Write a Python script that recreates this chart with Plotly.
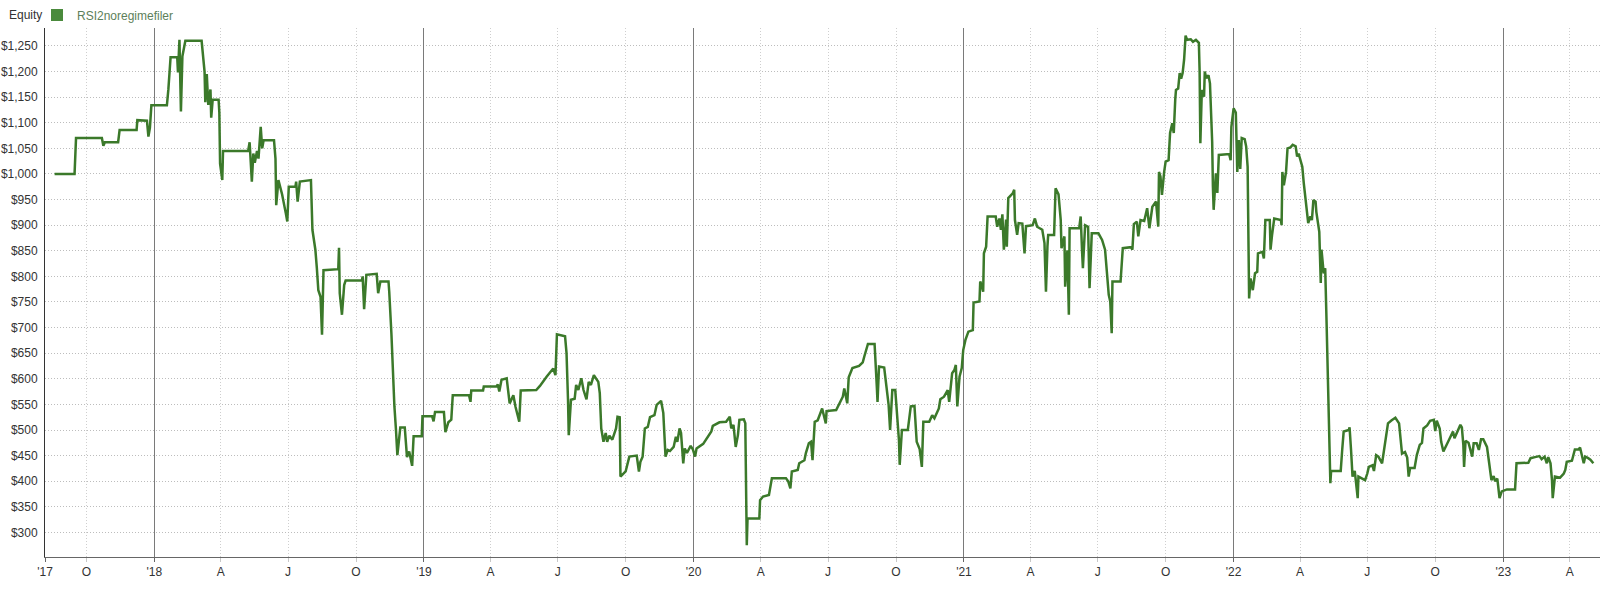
import pandas as pd
import plotly.graph_objects as go

# ---------------- data ----------------
start_date = pd.Timestamp("2017-08-07")
series_name = "RSI2noregimefiler"
panel_title = "Equity"

day_offset = [
    12, 39, 41, 76, 78, 80, 98, 100, 123, 124, 137, 139, 141, 143, 164, 166, 169, 178, 179, 181,
    183, 185, 187, 189, 211, 215, 216, 218, 220, 223, 224, 226, 234, 235, 236, 239, 240, 274, 276, 279,
    281, 283, 286, 288, 291, 293, 295, 309, 311, 312, 315, 320, 325, 327, 329, 338, 339, 341, 344, 359,
    361, 365, 367, 369, 372, 374, 376, 396, 397, 398, 401, 404, 406, 428, 429, 431, 434, 448, 450, 453,
    464, 465, 468, 470, 472, 474, 476, 480, 486, 488, 489, 492, 494, 496, 498, 509, 510, 523, 525, 527,
    539, 541, 545, 549, 551, 573, 575, 576, 592, 593, 610, 612, 614, 617, 624, 626, 628, 633, 636, 641,
    643, 664, 669, 678, 687, 690, 692, 703, 705, 707, 708, 711, 716, 718, 721, 725, 728, 732, 735, 738,
    742, 748, 750, 752, 755, 758, 760, 763, 767, 772, 774, 777, 778, 785, 790, 800, 803, 805, 808, 811,
    815, 818, 824, 827, 833, 836, 839, 842, 845, 850, 853, 855, 858, 860, 863, 865, 868, 873, 876, 879,
    881, 890, 896, 901, 903, 912, 921, 926, 928, 931, 934, 937, 939, 945, 947, 948, 949, 950, 966, 967,
    971, 979, 983, 1002, 1005, 1008, 1010, 1018, 1020, 1027, 1029, 1033, 1036, 1038, 1041, 1045, 1051, 1056, 1057, 1070,
    1074, 1079, 1081, 1085, 1087, 1092, 1101, 1106, 1108, 1113, 1122, 1124, 1125, 1126, 1128, 1135, 1138, 1141, 1143, 1146,
    1150, 1152, 1155, 1156, 1159, 1167, 1171, 1176, 1179, 1183, 1186, 1188, 1196, 1200, 1203, 1209, 1211, 1216, 1221, 1223,
    1227, 1230, 1232, 1234, 1237, 1240, 1242, 1245, 1249, 1255, 1256, 1264, 1265, 1267, 1269, 1270, 1273, 1275, 1286, 1288,
    1291, 1293, 1295, 1297, 1300, 1301, 1303, 1309, 1311, 1312, 1315, 1317, 1322, 1325, 1327, 1336, 1339, 1342, 1349, 1352,
    1354, 1356, 1357, 1365, 1367, 1371, 1374, 1375, 1379, 1380, 1383, 1385, 1386, 1399, 1401, 1403, 1404, 1407, 1411, 1413,
    1416, 1425, 1430, 1434, 1437, 1439, 1441, 1443, 1444, 1455, 1458, 1469, 1471, 1473, 1477, 1479, 1482, 1487, 1491, 1494,
    1498, 1503, 1506, 1507, 1509, 1511, 1514, 1516, 1520, 1522, 1525, 1527, 1529, 1530, 1533, 1535, 1537, 1539, 1541, 1543,
    1545, 1550, 1553, 1557, 1561, 1562, 1563, 1565, 1568, 1569, 1571, 1574, 1576, 1577, 1579, 1580, 1581, 1584, 1586, 1588,
    1602, 1604, 1605, 1608, 1611, 1613, 1615, 1617, 1619, 1623, 1625, 1627, 1628, 1629, 1631, 1634, 1637, 1640, 1641, 1647,
    1649, 1651, 1657, 1658, 1660, 1663, 1672, 1673, 1674, 1676, 1679, 1681, 1685, 1688, 1692, 1694, 1696, 1699, 1701, 1703,
    1705, 1708, 1709, 1712, 1714, 1716, 1719, 1720, 1722, 1724, 1726, 1727, 1730, 1732, 1734, 1736, 1737, 1738, 1739, 1740,
    1753, 1755, 1757, 1764, 1765, 1767, 1769, 1772, 1774, 1776, 1777, 1782, 1786, 1789, 1791, 1796, 1798, 1801, 1804, 1809,
    1811, 1814, 1817, 1822, 1827, 1832, 1834, 1836, 1840, 1843, 1845, 1847, 1853, 1856, 1860, 1863, 1865, 1870, 1874, 1879,
    1881, 1883, 1887, 1889, 1892, 1897, 1901, 1905, 1907, 1910, 1915, 1917, 1919, 1920, 1922, 1926, 1928, 1931, 1933, 1937,
    1940, 1943, 1946, 1951, 1954, 1957, 1960, 1962, 1965, 1968, 1971, 1978, 1989, 1991, 2007, 2010, 2016, 2022, 2025, 2029,
    2032, 2034, 2037, 2039, 2040, 2043, 2050, 2055, 2057, 2059, 2066, 2070, 2075, 2077, 2082, 2084, 2088, 2091, 2095,
]

equity = [
    1000, 1000, 1070, 1070, 1055, 1062, 1062, 1086, 1086, 1105, 1104, 1073, 1090, 1134, 1134, 1165, 1228, 1228, 1198, 1262,
    1122, 1230, 1245, 1260, 1260, 1200, 1140, 1195, 1135, 1165, 1110, 1145, 1145, 1120, 1020, 988, 1045, 1045, 1062, 985,
    1040, 1022, 1045, 1030, 1092, 1050, 1066, 1066, 1030, 939, 988, 960, 923, 907, 975, 975, 985, 946, 985, 988,
    891, 852, 816, 773, 760, 686, 812, 814, 856, 767, 725, 783, 792, 792, 800, 736, 803, 805, 767, 790,
    790, 770, 686, 598, 546, 503, 451, 505, 505, 467, 447, 458, 440, 430, 488, 488, 527, 527, 517, 535,
    535, 496, 515, 520, 568, 568, 555, 577, 577, 585, 585, 589, 575, 598, 601, 580, 552, 568, 545, 516,
    577, 578, 586, 604, 620, 607, 687, 683, 650, 559, 490, 559, 561, 588, 578, 601, 578, 560, 594, 588,
    607, 594, 572, 503, 477, 494, 477, 489, 481, 503, 526, 525, 409, 419, 448, 450, 419, 438, 448, 503,
    506, 525, 529, 549, 557, 533, 448, 461, 459, 467, 487, 477, 503, 494, 435, 464, 455, 469, 462, 448,
    464, 473, 487, 497, 508, 515, 516, 526, 503, 510, 467, 490, 520, 521, 513, 389, 275, 327, 327, 363,
    370, 373, 406, 406, 400, 386, 419, 422, 435, 441, 455, 474, 477, 441, 516, 519, 542, 513, 537, 539,
    551, 565, 581, 552, 603, 621, 625, 632, 643, 668, 668, 624, 585, 555, 624, 622, 585, 549, 500, 578,
    578, 539, 480, 432, 500, 500, 546, 547, 477, 463, 428, 516, 516, 529, 523, 542, 560, 565, 578, 555,
    611, 617, 627, 546, 604, 621, 656, 676, 692, 695, 749, 751, 790, 782, 770, 845, 858, 917, 917, 897,
    913, 891, 921, 852, 911, 858, 953, 962, 969, 910, 881, 904, 903, 845, 898, 900, 913, 897, 891, 865,
    770, 858, 881, 881, 972, 960, 910, 855, 878, 780, 851, 725, 894, 894, 917, 845, 816, 900, 897, 777,
    884, 884, 871, 852, 793, 764, 751, 689, 790, 790, 855, 857, 852, 902, 907, 878, 910, 908, 933, 894,
    936, 946, 897, 1004, 995, 959, 1004, 1024, 1027, 1080, 1099, 1080, 1145, 1164, 1167, 1197, 1186, 1197, 1223, 1270,
    1262, 1263, 1258, 1262, 1256, 1200, 1060, 1164, 1151, 1200, 1187, 1193, 1177, 1138, 1063, 975, 930, 1001, 963, 1037,
    1039, 1027, 1092, 1128, 1120, 1004, 1066, 1010, 1070, 1068, 1054, 1014, 799, 757, 796, 773, 806, 809, 845, 848,
    835, 910, 910, 852, 880, 913, 910, 900, 1004, 978, 1004, 1050, 1052, 1057, 1054, 1034, 1040, 1021, 1014, 982,
    956, 923, 904, 917, 910, 949, 946, 926, 904, 887, 787, 852, 806, 816, 702, 591, 533, 435, 396, 420,
    420, 461, 497, 500, 505, 461, 409, 420, 396, 367, 409, 405, 402, 415, 428, 431, 420, 451, 448, 435,
    454, 492, 513, 519, 524, 513, 487, 454, 457, 446, 409, 426, 426, 451, 471, 475, 503, 509, 518, 520,
    498, 518, 503, 477, 458, 474, 484, 497, 484, 494, 510, 505, 471, 428, 479, 475, 464, 448, 474, 474,
    461, 482, 482, 467, 435, 402, 410, 400, 405, 367, 380, 384, 384, 435, 436, 445, 447, 449, 443, 448,
    435, 447, 435, 402, 367, 409, 407, 415, 422, 438, 440, 462, 462, 466, 435, 448, 445, 442, 435,
]

quarter_ticks = [
    "2017-10-01",
    "2018-04-01", "2018-07-01", "2018-10-01",
    "2019-04-01", "2019-07-01", "2019-10-01",
    "2020-04-01", "2020-07-01", "2020-10-01",
    "2021-04-01", "2021-07-01", "2021-10-01",
    "2022-04-01", "2022-07-01", "2022-10-01",
    "2023-04-01",
]
quarter_labels = ["O", "A", "J", "O", "A", "J", "O", "A", "J", "O",
                  "A", "J", "O", "A", "J", "O", "A"]

year_ticks = ["2017-08-06", "2018-01-01", "2019-01-01", "2020-01-01",
              "2021-01-01", "2022-01-01", "2023-01-01"]
year_labels = ["'17", "'18", "'19", "'20", "'21", "'22", "'23"]

y_ticks = list(range(300, 1300, 50))
y_labels = ["$" + format(v, ",d") for v in y_ticks]
x_range = ["2017-08-06", "2023-05-12"]
y_range = [252, 1285]

# ---------------- figure ----------------
dates = start_date + pd.to_timedelta(day_offset, unit="D")

LINE = "#3b792a"
FONT = "Liberation Sans, Arial, sans-serif"
DOT = "1px,2px"
W, H = 1600, 593
M_L, M_R, M_T, M_B = 45, 0, 28, 36
plot_h = H - M_T - M_B

fig = go.Figure()
fig.add_trace(go.Scatter(
    x=dates, y=equity, mode="lines", name=series_name,
    line=dict(color=LINE, width=2.5), showlegend=False,
))
# same series bound to the year axis (invisible) so that the year grid is drawn
fig.add_trace(go.Scatter(
    x=dates, y=equity, mode="lines", xaxis="x2", yaxis="y",
    line=dict(color="rgba(0,0,0,0)", width=0), showlegend=False, hoverinfo="skip",
))
# legend entry (square swatch like the original)
fig.add_trace(go.Scatter(
    x=[None], y=[None], mode="markers", name=series_name,
    marker=dict(symbol="square", size=9, color="#4a8a3c"),
    showlegend=True,
))

fig.add_annotation(
    text=panel_title, xref="paper", yref="paper", x=0, y=1 + (M_T - 15) / plot_h,
    xanchor="left", yanchor="middle", xshift=-38, showarrow=False,
    font=dict(color="#333", size=12, family=FONT),
)

fig.update_layout(
    width=W, height=H,
    margin=dict(l=M_L, r=M_R, t=M_T, b=M_B, autoexpand=False),
    paper_bgcolor="white", plot_bgcolor="white",
    font=dict(family=FONT, size=12, color="#333"),
    showlegend=True,
    legend=dict(
        orientation="h",
        xref="container", yref="container",
        x=37 / W, y=1 - 15 / H, xanchor="left", yanchor="middle",
        font=dict(color="#5d7f5a", size=12),
        bgcolor="rgba(0,0,0,0)",
        itemsizing="constant",
    ),
    xaxis=dict(
        type="date", range=x_range, automargin=False,
        tickmode="array", tickvals=quarter_ticks, ticktext=quarter_labels,
        showgrid=True, gridcolor="#cfcfcf", griddash=DOT, gridwidth=1,
        showline=True, linecolor="#666", linewidth=1,
        ticks="outside", ticklen=4, tickcolor="#c8c8c8",
        tickfont=dict(color="#333", size=12),
        zeroline=False,
    ),
    xaxis2=dict(
        type="date", range=x_range, overlaying="x", matches="x", anchor="y", side="bottom",
        automargin=False,
        tickmode="array", tickvals=year_ticks, ticktext=year_labels,
        showgrid=True, gridcolor="#7a7a7a", gridwidth=1,
        showline=False,
        ticks="outside", ticklen=4, tickcolor="#666",
        tickfont=dict(color="#333", size=12),
        zeroline=False,
    ),
    yaxis=dict(
        range=y_range, automargin=False,
        tickmode="array", tickvals=y_ticks, ticktext=y_labels,
        showgrid=True, gridcolor="#bdbdbd", griddash=DOT, gridwidth=1,
        showline=True, linecolor="#333", linewidth=1,
        ticks="", ticklabelstandoff=4,
        tickfont=dict(color="#333", size=12),
        zeroline=False,
    ),
)

# remove the browser's default 8px page margin so the figure sits at the window origin
fig.write_html(
    "out.html",
    config={"displayModeBar": False},
    post_script="document.body.style.margin='0';document.body.style.overflow='hidden';",
)
